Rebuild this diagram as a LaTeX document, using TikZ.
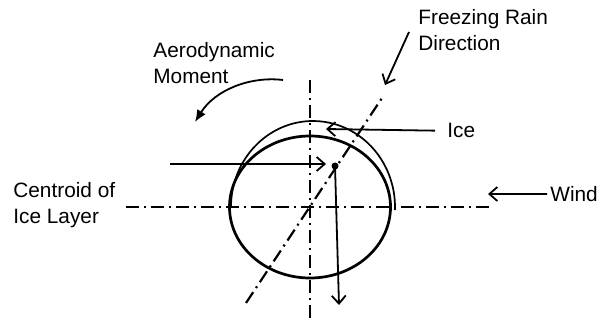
\documentclass[tikz,border=0pt]{standalone}
\usepackage{fontspec}
\setmainfont{Liberation Sans}
\usetikzlibrary{arrows.meta}

\tikzset{
  axisline/.style={line width=1.1pt,dash pattern=on 6.5pt off 2.5pt on 1pt off 2.5pt},
  pointer/.style={line width=0.9pt,-{Straight Barb[length=4pt,width=7pt,line width=0.9pt]}},
  labeltext/.style={anchor=north west,inner sep=0pt,align=left,font=\fontsize{10.4}{13}\selectfont}
}

\begin{document}
\begin{tikzpicture}[x=0.5pt,y=-0.5pt]
  \useasboundingbox (0,0) rectangle (609,320);

  % Axes
  \coordinate (ctr) at (310,207);
  \draw[axisline] (310,80) -- (310,320);
  \draw[axisline] (126,207) -- (489,207);
  \draw[axisline] (246,303) -- (382,98);

  % Conductor and ice layer
  \draw[line width=1.35pt] (ctr) ellipse [x radius=80.5, y radius=71];
  \draw[line width=0.85pt] (231,207) arc[start angle=180, end angle=362, x radius=82, y radius=86];

  % Labels
  \node[labeltext] (rainlbl) at (418,9) {Freezing Rain\\Direction};
  \node[labeltext] (momlbl) at (153,42) {Aerodynamic\\Moment};
  \node[labeltext] (icelbl) at (447,123) {Ice};
  \node[labeltext] (windlbl) at (550,186) {Wind};
  \node[labeltext] (cenlbl) at (13,182) {Centroid of\\Ice Layer};

  % Arrows
  \coordinate (raintail) at (409,32);
  \coordinate (raintip) at (385,85);
  \draw[pointer] (raintail) -- (raintip);

  \coordinate (momtail) at (283,80);
  \coordinate (momtip) at (195,122);
  \draw[line width=0.9pt,-{Latex[length=6pt,width=5pt]}] (momtail) .. controls (250,76) and (215,90) .. (momtip);

  \coordinate (icetip) at (326,129);
  \draw[pointer] ([xshift=-6pt]icelbl.west) -- (icetip);

  \coordinate (windtip) at (488,194);
  \draw[pointer] ([xshift=-1.5pt]windlbl.west) -- (windtip);

  \coordinate (centail) at (170,164);
  \coordinate (centip) at (326,164);
  \draw[pointer] (centail) -- (centip);

  % Centroid and weight
  \node[circle,fill,inner sep=0pt,minimum size=3.5pt] (cdot) at (335,166) {};
  \coordinate (wtip) at (339,305);
  \draw[pointer] (cdot.center) -- (wtip);
\end{tikzpicture}
\end{document}
